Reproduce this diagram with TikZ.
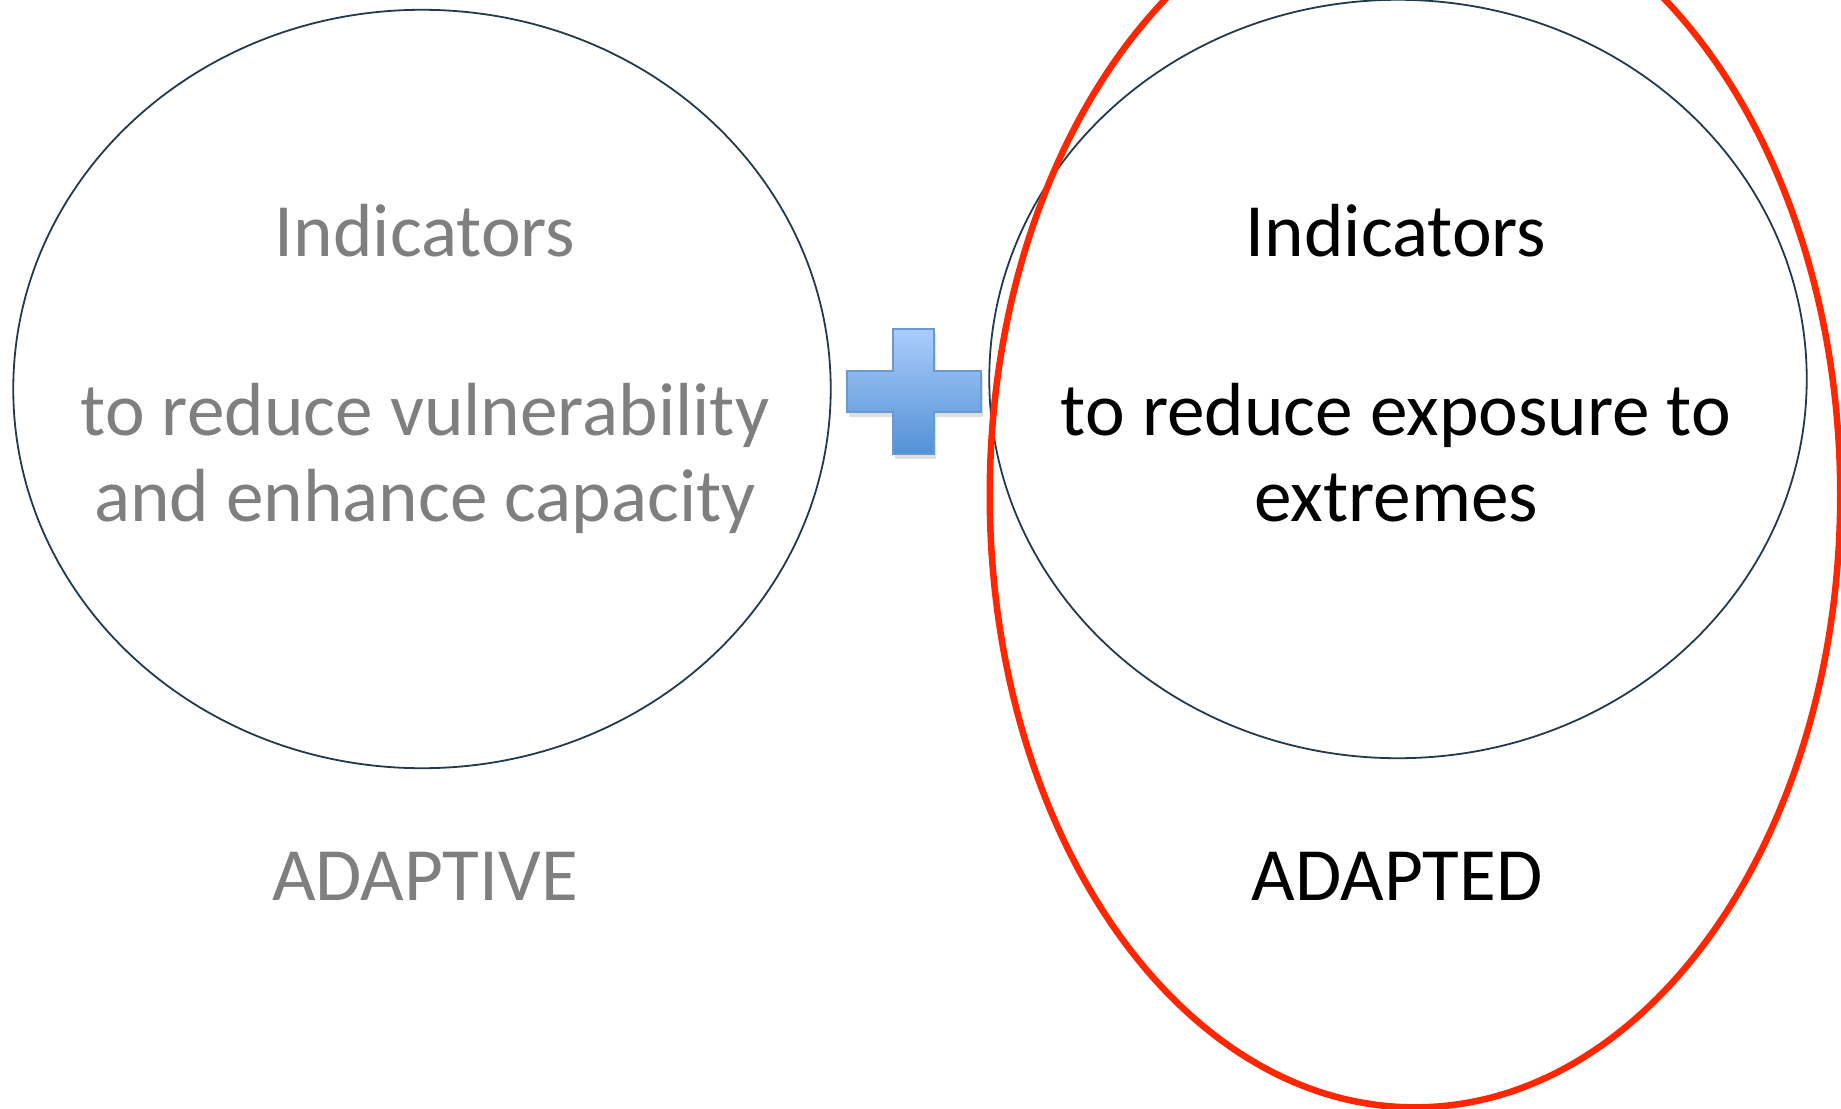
\documentclass[tikz,border=0pt]{standalone}
\usepackage{fontspec}
\setmainfont{Carlito}
\usepackage{tikz}
\usetikzlibrary{shapes,arrows}
\usetikzlibrary{shapes.geometric}
\usetikzlibrary{shadows}
\definecolor{ringblue}{RGB}{33,58,78}
\definecolor{ringred}{RGB}{255,38,0}
\definecolor{greytext}{RGB}{127,127,127}
\definecolor{plustop}{RGB}{171,205,251}
\definecolor{plusbot}{RGB}{83,145,214}
\definecolor{plusedge}{RGB}{106,153,208}
\tikzstyle{ring} = [draw=ringblue, ellipse, line width=0.018cm, inner sep=0pt,
minimum width=8.17cm, minimum height=7.58cm]
\tikzstyle{bigring} = [draw=ringred, ellipse, line width=0.065cm, inner sep=0pt,
minimum width=8.5cm, minimum height=12.24cm]
\tikzstyle{label} = [anchor=base, inner sep=0pt, font=\fontsize{21.4pt}{25pt}\selectfont]
\tikzstyle{pale} = [label, text=greytext]

\begin{document}
\begin{tikzpicture}[x=0.01cm, y=-0.01cm]
	\useasboundingbox (0,0) rectangle (1841,1109);
	% Place nodes
	\node [ring] (adaptive) at (422,389) {};
	\node [ring] (adapted) at (1398,379) {};
	\node [bigring] (outer) at (1415,495) {};
	
	\node [pale] (ind1) at (425,256) {Indicators};
	\node [pale] (vul1) at (425,435) {to reduce vulnerability};
	\node [pale] (vul2) at (425,521) {and enhance capacity};
	\node [pale] (tag1) at (425,900) {ADAPTIVE};
	
	\node [label] (ind2) at (1396,256) {Indicators};
	\node [label] (exp1) at (1396,435) {to reduce exposure to};
	\node [label] (exp2) at (1396,521) {extremes};
	\node [label] (tag2) at (1397,900) {ADAPTED};
	
	% plus sign
	\shade [top color=plustop, bottom color=plusbot, draw=plusedge, line width=0.02cm,
	drop shadow={opacity=0.25, shadow xshift=0.6pt, shadow yshift=-1.4pt}]
	(893,329) -- (934,329) -- (934,371) -- (981,371) -- (981,412) -- (934,412)
	-- (934,454) -- (893,454) -- (893,412) -- (847,412) -- (847,371) -- (893,371) -- cycle;
	
\end{tikzpicture}
\end{document}
